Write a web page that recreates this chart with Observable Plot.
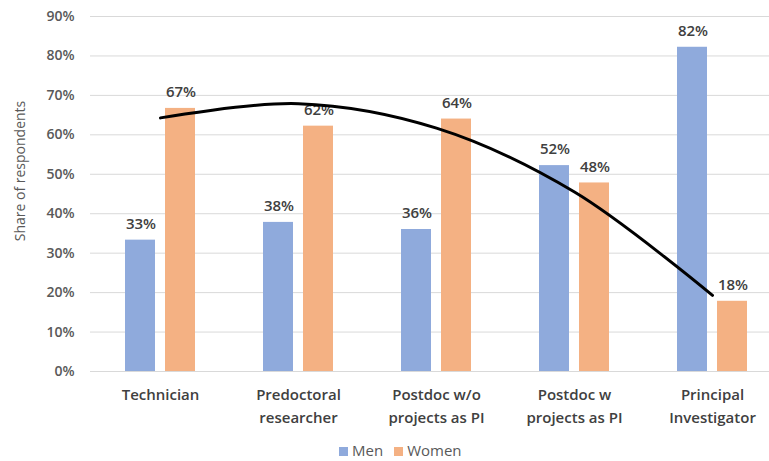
<!DOCTYPE html>
<html><head><meta charset="utf-8">
<script src="https://cdn.jsdelivr.net/npm/d3@7"></script>
<script src="https://cdn.jsdelivr.net/npm/@observablehq/plot@0.6"></script>
<style>
body{margin:0;background:#fff;font-family:"Open Sans",sans-serif;}
#wrap{position:relative;width:769px;height:461px;}
#legend{position:absolute;left:339px;top:440px;font-size:15px;color:#595959;display:flex;gap:11px;align-items:center;}
#legend span.sw{display:inline-block;width:9px;height:9px;margin-right:4px;}
</style></head><body><div id="wrap"><div id="chart"></div><div id="legend"></div></div>
<script>
const categories = ["Technician","Predoctoral\nresearcher","Postdoc w/o\nprojects as PI","Postdoc w\nprojects as PI","Principal\nInvestigator"];
const men = [33.3, 37.8, 36.0, 52.2, 82.2];
const women = [66.7, 62.2, 64.0, 47.8, 17.8];
const trend = [64.3, 67.9, 61.7, 45.5, 19.3];
const yTicks = [0, 10, 20, 30, 40, 50, 60, 70, 80, 90];
const seriesNames = ["Men", "Women"];
const colors = ["#8faadc", "#f4b183"];
const yTitle = "Share of respondents";

const rows = categories.map((c, i) => ({cat: c, men: men[i], women: women[i], trend: trend[i]}));
const fmt = v => Math.round(v) + "%";

const chart = Plot.plot({
  width: 769, height: 436,
  marginTop: 16, marginBottom: 65, marginLeft: 90, marginRight: 0,
  style: {fontFamily: "'Open Sans', sans-serif", fontSize: "14px", color: "#595959", background: "#fff"},
  x: {domain: categories, range: [89, 783], padding: 0},
  y: {domain: [0, 90]},
  marks: [
    Plot.gridY(yTicks, {stroke: "#d9d9d9", strokeOpacity: 1}),
    Plot.barY(rows, {x: "cat", y: "men", fill: colors[0], insetLeft: 34, insetRight: 74}),
    Plot.barY(rows, {x: "cat", y: "women", fill: colors[1], insetLeft: 74, insetRight: 34}),
    Plot.text(rows, {x: "cat", y: "men", text: d => fmt(d.men), dx: -19.5, dy: -16, fill: "#404040", fontWeight: 600, fontSize: 15}),
    Plot.text(rows, {x: "cat", y: "women", text: d => fmt(d.women), dx: 20.5, dy: -16, fill: "#404040", fontWeight: 600, fontSize: 15}),
    Plot.line(rows, {x: "cat", y: "trend", stroke: "#000", strokeWidth: 3, curve: "catmull-rom"}),
    Plot.axisY({ticks: yTicks, tickSize: 0, tickPadding: 16, tickFormat: d => d + "%", label: null, fill: "#595959", fontWeight: 600, fontSize: 14}),
    Plot.axisX({tickSize: 0, tickPadding: 12, label: null, fill: "#404040", fontWeight: 600, fontSize: 15, lineHeight: 1.55}),
    Plot.text([yTitle], {frameAnchor: "left", textAnchor: "middle", rotate: -90, dx: -70, dy: -23, fill: "#595959", fontSize: 14})
  ]
});
document.getElementById("chart").appendChild(chart);

const legend = document.getElementById("legend");
seriesNames.forEach((n, i) => {
  const item = document.createElement("div");
  item.innerHTML = `<span class="sw" style="background:${colors[i]}"></span>${n}`;
  legend.appendChild(item);
});
</script></body></html>
